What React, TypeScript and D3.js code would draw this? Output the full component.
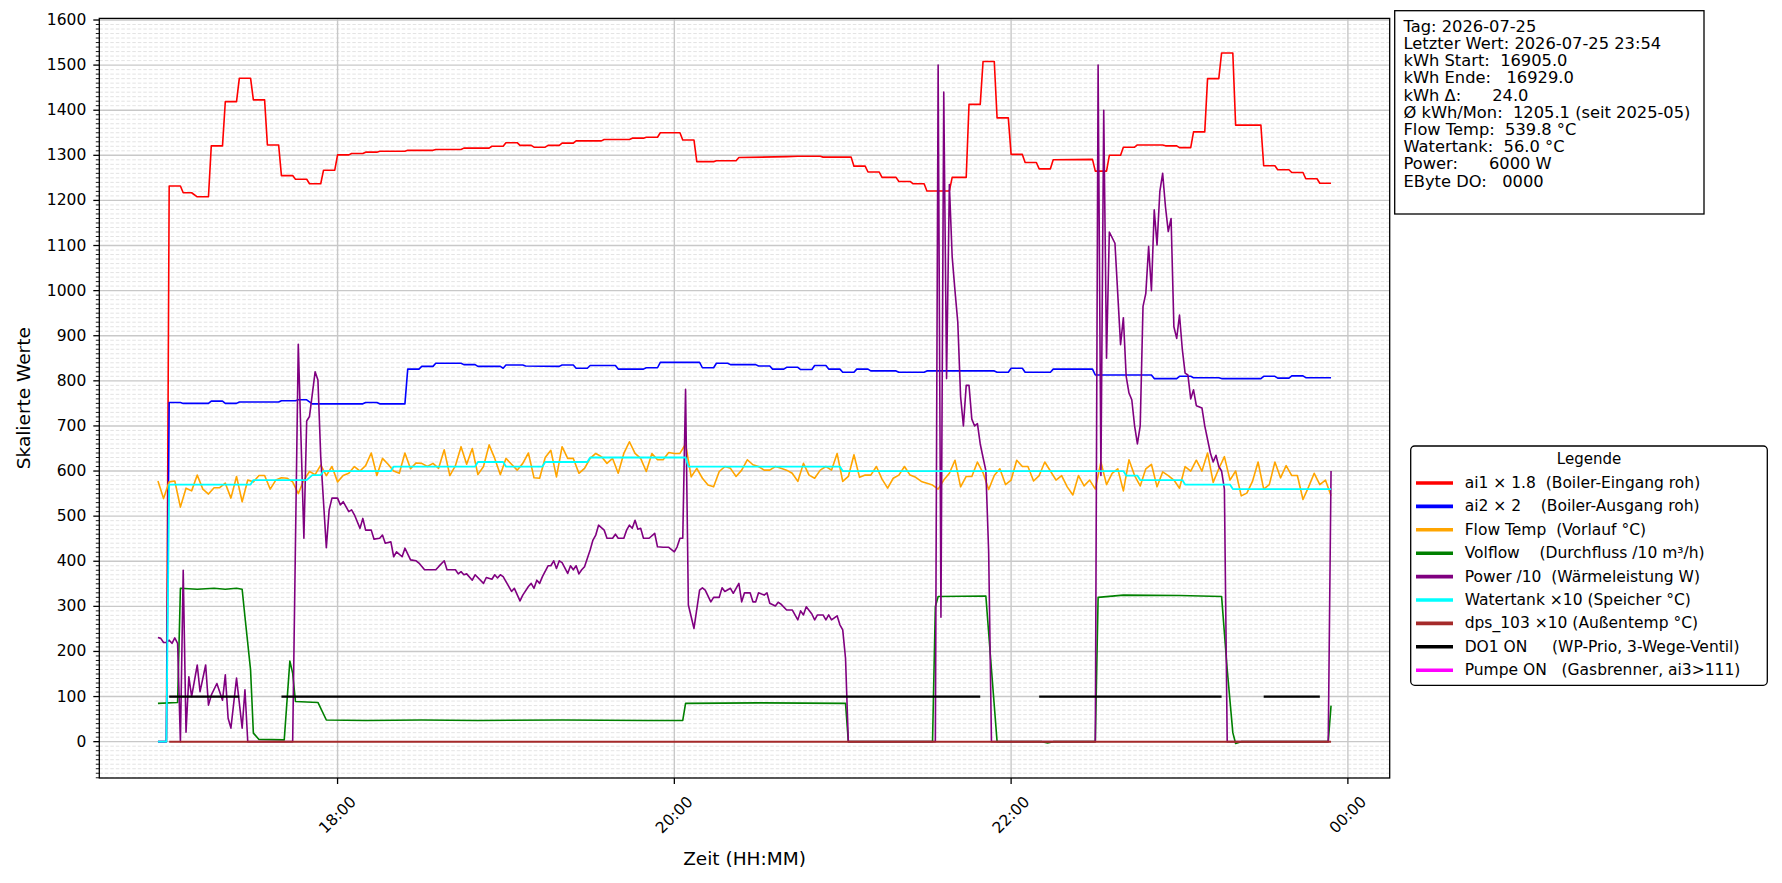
import React, { useEffect, useRef } from 'react';
import * as d3 from 'd3';

// Zeitpunkte in Minuten seit 00:00 am 2026-07-25, Werte skaliert wie im Plot
type Pt = [number, number];

const ai1Scaled: Pt[] = [
  [1016, 0], [1019, 0], [1020, 1232], [1024, 1232], [1025, 1217], [1028, 1217], [1030, 1208], [1034, 1208],
  [1035, 1321], [1039, 1321], [1040, 1419], [1044, 1419], [1045, 1471], [1049, 1471], [1050, 1423], [1054, 1423],
  [1055, 1323], [1059, 1323], [1060, 1255], [1064, 1255], [1065, 1247], [1069, 1247], [1070, 1237], [1074, 1237],
  [1075, 1267], [1079, 1267], [1080, 1301], [1084, 1301], [1085, 1304], [1089, 1304], [1090, 1307], [1094, 1307],
  [1095, 1309], [1104, 1309], [1105, 1311], [1114, 1311], [1115, 1313], [1124, 1313], [1125, 1316], [1134, 1316],
  [1135, 1320], [1139, 1320], [1140, 1328], [1144, 1328], [1145, 1322], [1149, 1322], [1150, 1318], [1154, 1318],
  [1155, 1322], [1159, 1322], [1160, 1327], [1164, 1327], [1165, 1332], [1174, 1332], [1175, 1335], [1184, 1335],
  [1185, 1338], [1189, 1338], [1190, 1340], [1194, 1340], [1195, 1350], [1202, 1350], [1203, 1334], [1207, 1334],
  [1208, 1286], [1214, 1286], [1215, 1288], [1222, 1288], [1223, 1295], [1240, 1297], [1244, 1298], [1252, 1298],
  [1253, 1296], [1263, 1296], [1264, 1276], [1268, 1276], [1269, 1263], [1273, 1263], [1274, 1251], [1279, 1251],
  [1280, 1242], [1284, 1242], [1285, 1237], [1289, 1237], [1290, 1221], [1298, 1221], [1299, 1251], [1304, 1251],
  [1305, 1413], [1309, 1413], [1310, 1508], [1314, 1508], [1315, 1383], [1319, 1383], [1320, 1302], [1324, 1302],
  [1325, 1284], [1329, 1284], [1330, 1270], [1334, 1270], [1335, 1290], [1349, 1291], [1350, 1265], [1354, 1265],
  [1355, 1300], [1359, 1300], [1360, 1318], [1364, 1318], [1365, 1323], [1374, 1323], [1375, 1321], [1379, 1321],
  [1380, 1317], [1384, 1317], [1385, 1352], [1389, 1352], [1390, 1470], [1394, 1470], [1395, 1527], [1399, 1527],
  [1400, 1367], [1409, 1367], [1410, 1277], [1414, 1277], [1415, 1268], [1419, 1268], [1420, 1262], [1424, 1262],
  [1425, 1248], [1429, 1248], [1430, 1238], [1434, 1238],
];

const ai2Scaled: Pt[] = [
  [1016, 0], [1019, 0], [1020, 752], [1024, 752], [1025, 750], [1034, 750], [1035, 755], [1039, 755],
  [1040, 750], [1044, 750], [1045, 753], [1059, 753], [1060, 756], [1065, 756], [1066, 758], [1069, 758],
  [1071, 749], [1089, 749], [1090, 752], [1094, 752], [1095, 749], [1104, 749], [1105, 826], [1109, 826],
  [1110, 832], [1114, 832], [1115, 839], [1124, 839], [1125, 836], [1129, 836], [1130, 832], [1138, 832],
  [1139, 828], [1140, 835], [1146, 835], [1147, 833], [1159, 832], [1160, 835], [1164, 835], [1165, 828],
  [1169, 828], [1170, 834], [1179, 834], [1180, 826], [1189, 826], [1190, 829], [1194, 829], [1195, 841],
  [1209, 841], [1210, 829], [1214, 829], [1215, 839], [1219, 839], [1220, 836], [1229, 836], [1230, 833],
  [1234, 833], [1235, 826], [1239, 826], [1240, 830], [1244, 830], [1245, 825], [1249, 825], [1250, 834],
  [1254, 834], [1255, 826], [1259, 826], [1260, 819], [1264, 819], [1265, 826], [1269, 826], [1270, 822],
  [1279, 822], [1280, 819], [1289, 819], [1290, 822], [1314, 822], [1315, 819], [1319, 819], [1320, 828],
  [1324, 828], [1325, 819], [1334, 819], [1335, 826], [1349, 826], [1350, 813], [1370, 813], [1371, 805],
  [1379, 805], [1380, 810], [1384, 810], [1385, 807], [1394, 807], [1395, 805], [1409, 805], [1410, 810],
  [1414, 810], [1415, 806], [1419, 806], [1420, 811], [1424, 811], [1425, 807], [1434, 807],
];

// Vorlauf alle 2 Minuten ab 16:56
const flowStart = 1016;
const flowStep = 2;
const flowTemp: number[] = [
  578, 539, 576, 578, 520, 562, 556, 591, 560, 549, 563, 563, 573, 540, 588, 532, 580, 576, 590, 590,
  560, 580, 585, 584, 576, 550, 580, 599, 592, 613, 590, 610, 576, 590, 595, 610, 600, 612, 640, 590,
  628, 615, 600, 595, 640, 605, 618, 617, 610, 617, 606, 647, 590, 612, 654, 615, 650, 592, 610, 658,
  628, 592, 628, 615, 602, 617, 640, 585,
  584, 630, 646, 587, 654, 628, 628, 595, 606, 628, 639, 632, 617, 628, 595, 639, 665, 639, 628, 599,
  639, 625, 625, 641, 639, 639, 660, 587, 606, 584, 569, 565, 599, 610, 606, 588, 602, 625, 614, 610,
  602, 602, 610, 606, 602, 595, 577, 617, 591, 584, 602, 610, 602, 639, 577, 588, 636, 586, 591, 591,
  610, 582, 562, 584, 591, 610, 591, 586, 577, 573, 569, 560, 580, 595, 624,
  565, 588, 588, 620, 596, 559, 590, 605, 570, 580, 624, 610, 610, 578, 590, 620, 600, 580, 590, 565,
  547, 590, 567, 580, 560, 620, 570, 595, 605, 556, 625, 590, 567, 605, 615, 565, 598, 590, 580, 562,
  610, 600, 624,
  600, 640, 575, 605, 632, 580, 600,
  545, 551, 577, 620, 560, 570, 620, 585, 612, 590, 590, 537, 565, 595, 570, 580, 545,
];

const volflow: Pt[] = [
  [1016, 85], [1023, 87], [1024, 340], [1030, 338], [1036, 340], [1040, 338], [1044, 340], [1046, 338],
  [1047, 277], [1049, 159], [1050, 19], [1052, 5], [1061, 4], [1063, 179], [1064, 152], [1065, 89],
  [1073, 87], [1076, 48], [1090, 47], [1110, 48], [1130, 47], [1160, 48], [1190, 47], [1203, 47],
  [1204, 85], [1230, 86], [1261, 85], [1262, 0], [1292, 0], [1293, 299], [1294, 322], [1311, 323],
  [1313, 160], [1315, 0], [1331, 0], [1333, -3], [1335, 0], [1350, 0], [1351, 320], [1360, 325],
  [1380, 324], [1395, 322], [1397, 160], [1399, 20], [1400, -4], [1402, 0], [1433, 0], [1434, 80],
];

const power: Pt[] = [
  [1016, 231], [1017, 229], [1018, 220], [1019, 220], [1020, 225], [1021, 218], [1022, 230], [1023, 218],
  [1024, 0], [1025, 380], [1026, 21], [1027, 144], [1028, 100], [1030, 170], [1031, 111], [1033, 170],
  [1034, 81], [1035, 103], [1037, 129], [1039, 92], [1040, 148], [1041, 52], [1042, 30], [1044, 141],
  [1046, 30], [1047, 115], [1048, 0], [1064, 0], [1066, 881], [1068, 451], [1069, 711], [1070, 721],
  [1072, 820], [1073, 802], [1074, 632], [1076, 430], [1077, 514], [1078, 540], [1080, 540], [1081, 525],
  [1082, 532], [1084, 510], [1085, 514], [1086, 503], [1088, 473], [1089, 495], [1090, 469], [1092, 469],
  [1093, 449], [1095, 451], [1096, 458], [1097, 440], [1099, 443], [1100, 410], [1101, 421], [1103, 410],
  [1104, 429], [1106, 403], [1108, 401], [1109, 396], [1111, 381], [1115, 381], [1116, 388], [1118, 401],
  [1119, 381], [1122, 381], [1123, 372], [1124, 377], [1125, 370], [1126, 372], [1128, 358], [1129, 370],
  [1132, 351], [1133, 364], [1135, 360], [1136, 370], [1137, 363], [1138, 370], [1139, 366], [1142, 333],
  [1143, 340], [1145, 312], [1146, 325], [1148, 344], [1149, 351], [1150, 340], [1151, 358], [1152, 351],
  [1153, 366], [1155, 390], [1156, 390], [1157, 401], [1158, 384], [1159, 401], [1160, 397], [1162, 373],
  [1163, 390], [1164, 381], [1165, 390], [1166, 372], [1167, 381], [1168, 388], [1170, 425], [1171, 447],
  [1172, 458], [1173, 480], [1175, 469], [1176, 451], [1178, 451], [1179, 460], [1180, 451], [1182, 451],
  [1183, 469], [1184, 480], [1185, 473], [1186, 491], [1187, 471], [1188, 473], [1189, 451], [1191, 451],
  [1193, 462], [1194, 432], [1196, 431], [1198, 431], [1200, 421], [1201, 432], [1202, 451], [1203, 451],
  [1204, 781], [1205, 303], [1207, 251], [1209, 336], [1210, 341], [1211, 336], [1213, 310], [1214, 320],
  [1216, 320], [1217, 341], [1218, 333], [1220, 340], [1221, 329], [1222, 340], [1223, 351], [1224, 310],
  [1225, 330], [1227, 330], [1228, 310], [1229, 310], [1230, 330], [1232, 325], [1233, 330], [1234, 307],
  [1236, 301], [1237, 309], [1238, 305], [1240, 292], [1242, 292], [1244, 270], [1245, 290], [1246, 281],
  [1247, 299], [1249, 283], [1250, 270], [1251, 281], [1253, 281], [1254, 270], [1255, 281], [1256, 270],
  [1258, 279], [1259, 259], [1260, 248], [1261, 185], [1262, 0], [1293, 0], [1294, 1500], [1295, 276],
  [1296, 1440], [1297, 805], [1298, 1235], [1299, 1075], [1300, 1000], [1301, 930], [1302, 765], [1303, 700],
  [1304, 790], [1305, 790], [1306, 715], [1307, 700], [1308, 705], [1309, 660], [1310, 630], [1311, 601],
  [1312, 421], [1313, 0], [1350, 0], [1351, 1500], [1352, 590], [1353, 1400], [1354, 850], [1355, 1130],
  [1357, 1105], [1359, 880], [1360, 940], [1361, 810], [1362, 773], [1363, 758], [1364, 700], [1365, 660],
  [1366, 700], [1367, 965], [1368, 994], [1369, 1098], [1370, 1000], [1371, 1179], [1372, 1101], [1373, 1220],
  [1374, 1260], [1375, 1186], [1376, 1131], [1377, 1160], [1378, 920], [1379, 894], [1380, 946], [1381, 870],
  [1382, 817], [1383, 813], [1384, 760], [1385, 780], [1386, 745], [1388, 740], [1389, 700], [1391, 640],
  [1392, 620], [1393, 635], [1394, 610], [1395, 600], [1396, 560], [1397, 0], [1433, 0], [1434, 600],
];

const watertank: Pt[] = [
  [1016, 0], [1019, 0], [1020, 570], [1049, 570], [1050, 580], [1069, 580], [1071, 591], [1074, 591],
  [1075, 600], [1099, 600], [1100, 610], [1129, 610], [1130, 620], [1139, 620], [1140, 610], [1153, 610],
  [1154, 620], [1169, 620], [1170, 630], [1204, 630], [1205, 610], [1259, 610], [1260, 600], [1360, 600],
  [1361, 590], [1365, 590], [1366, 580], [1381, 580], [1382, 570], [1398, 570], [1399, 560], [1434, 560],
];

const dps103: Pt[] = [[1020, 0], [1434, 0]];

// DO1 ON -> Linie bei 100 (Start, Ende)
const do1On: Pt[] = [[1020, 1045], [1060, 1309], [1330, 1395], [1410, 1430]];
const pumpeOn: Pt[] = [];

const legendLabels = [
  'ai1 × 1.8  (Boiler-Eingang roh)',
  'ai2 × 2    (Boiler-Ausgang roh)',
  'Flow Temp  (Vorlauf °C)',
  'Volflow    (Durchfluss /10 m³/h)',
  'Power /10  (Wärmeleistung W)',
  'Watertank ×10 (Speicher °C)',
  'dps_103 ×10 (Außentemp °C)',
  'DO1 ON     (WP-Prio, 3-Wege-Ventil)',
  'Pumpe ON   (Gasbrenner, ai3>111)',
];
const legendColors = ['red', 'blue', 'orange', 'green', 'purple', 'cyan', 'brown', 'black', 'magenta'];

const infoLines = [
  'Tag: 2026-07-25',
  'Letzter Wert: 2026-07-25 23:54',
  'kWh Start:  16905.0',
  'kWh Ende:   16929.0',
  'kWh Δ:      24.0',
  'Ø kWh/Mon:  1205.1 (seit 2025-05)',
  'Flow Temp:  539.8 °C',
  'Watertank:  56.0 °C',
  'Power:      6000 W',
  'EByte DO:   0000',
];

const W = 1782;
const H = 883;
const FONT = 'DejaVu Sans, sans-serif';
const BASE = new Date(2026, 6, 25).getTime();
const toDate = (m: number) => new Date(BASE + m * 60000);
// Leerzeichen erhalten
const keepSpaces = (s: string) => s.replace(/ /g, '\u00A0');

export default function App() {
  const svgRef = useRef<SVGSVGElement>(null);

  useEffect(() => {
    if (!svgRef.current) return;
    const svg = d3.select(svgRef.current);
    svg.selectAll('*').remove();

    const left = 99.3, right = 1389.7, top = 18.4, bottom = 778;

    const flowPts: Pt[] = flowTemp.map((v, i) => [flowStart + i * flowStep, v]);
    const all = [ai1Scaled, ai2Scaled, flowPts, volflow, power, watertank, dps103].flat();
    const [t0, t1] = d3.extent(all, d => d[0]) as [number, number];
    const [v0, v1] = d3.extent(all, d => d[1]) as [number, number];
    const tp = (t1 - t0) * 0.05;
    const vp = (v1 - v0) * 0.05;

    const x = d3.scaleTime().domain([toDate(t0 - tp), toDate(t1 + tp)]).range([left, right]);
    const y = d3.scaleLinear().domain([v0 - vp, v1 + vp]).range([bottom, top]);

    svg.append('rect').attr('width', W).attr('height', H).attr('fill', '#fff');

    svg.append('defs').append('clipPath').attr('id', 'plotclip')
      .append('rect').attr('x', left).attr('y', top).attr('width', right - left).attr('height', bottom - top);

    // Gitter
    const grid = svg.append('g');
    const minorY = d3.range(-80, 1601, 10).filter(v => v % 100 !== 0);
    const majorY = d3.range(0, 1601, 100);
    const xTicks = x.ticks(d3.timeHour.every(2)!);

    grid.selectAll('.mg').data(minorY).enter().append('line')
      .attr('x1', left).attr('x2', right)
      .attr('y1', d => y(d)).attr('y2', d => y(d))
      .attr('stroke', '#dcdcdc').attr('stroke-width', 0.8).attr('stroke-dasharray', '3.5,2');
    grid.selectAll('.Mg').data(majorY).enter().append('line')
      .attr('x1', left).attr('x2', right)
      .attr('y1', d => y(d)).attr('y2', d => y(d))
      .attr('stroke', '#c8c8c8').attr('stroke-width', 1.4);
    grid.selectAll('.xg').data(xTicks).enter().append('line')
      .attr('y1', top).attr('y2', bottom)
      .attr('x1', d => x(d)).attr('x2', d => x(d))
      .attr('stroke', '#c8c8c8').attr('stroke-width', 1.4);

    // Linien
    const line = d3.line<Pt>().x(d => x(toDate(d[0]))).y(d => y(d[1]));
    const plot = svg.append('g').attr('clip-path', 'url(#plotclip)');
    const series: [Pt[], string, number][] = [
      [ai1Scaled, 'red', 1.6],
      [ai2Scaled, 'blue', 1.6],
      [flowPts, 'orange', 1.6],
      [volflow, 'green', 1.6],
      [power, 'purple', 1.6],
      [watertank, 'cyan', 1.8],
      [dps103, 'brown', 2],
    ];
    series.forEach(([data, color, w]) => {
      plot.append('path').datum(data).attr('d', line)
        .attr('fill', 'none').attr('stroke', color).attr('stroke-width', w)
        .attr('stroke-linejoin', 'round');
    });
    [[do1On, 'black'], [pumpeOn, 'magenta']].forEach(([iv, color]) => {
      (iv as Pt[]).forEach(seg => {
        plot.append('path').datum([[seg[0], 100], [seg[1], 100]] as Pt[]).attr('d', line)
          .attr('fill', 'none').attr('stroke', color as string).attr('stroke-width', 2.3);
      });
    });

    // Achsen
    const ax = svg.append('g');
    ax.selectAll('.mt').data(minorY).enter().append('line')
      .attr('x1', left - 3.5).attr('x2', left)
      .attr('y1', d => y(d)).attr('y2', d => y(d))
      .attr('stroke', '#000').attr('stroke-width', 0.9);
    ax.selectAll('.Mt').data(majorY).enter().append('line')
      .attr('x1', left - 6).attr('x2', left)
      .attr('y1', d => y(d)).attr('y2', d => y(d))
      .attr('stroke', '#000').attr('stroke-width', 1.3);
    ax.selectAll('.yl').data(majorY).enter().append('text')
      .attr('x', left - 13).attr('y', d => y(d))
      .attr('text-anchor', 'end').attr('dominant-baseline', 'central')
      .style('font-family', FONT).style('font-size', '15.5px').text(d => String(d));

    const fmt = d3.timeFormat('%H:%M');
    ax.selectAll('.xt').data(xTicks).enter().append('line')
      .attr('x1', d => x(d)).attr('x2', d => x(d))
      .attr('y1', bottom).attr('y2', bottom + 6)
      .attr('stroke', '#000').attr('stroke-width', 1.3);
    ax.selectAll('.xl').data(xTicks).enter().append('text')
      .attr('transform', d => `translate(${x(d)},${bottom + 37}) rotate(-45)`)
      .attr('text-anchor', 'middle').attr('dominant-baseline', 'central')
      .style('font-family', FONT).style('font-size', '15.5px').text(d => fmt(d));

    ax.append('rect').attr('x', left).attr('y', top)
      .attr('width', right - left).attr('height', bottom - top)
      .attr('fill', 'none').attr('stroke', '#000').attr('stroke-width', 1.3);

    svg.append('text').attr('x', (left + right) / 2).attr('y', 858)
      .attr('text-anchor', 'middle').attr('dominant-baseline', 'central')
      .style('font-family', FONT).style('font-size', '18.5px').text('Zeit (HH:MM)');
    svg.append('text').attr('transform', `translate(23,${(top + bottom) / 2}) rotate(-90)`)
      .attr('text-anchor', 'middle').attr('dominant-baseline', 'central')
      .style('font-family', FONT).style('font-size', '18.5px').text('Skalierte Werte');

    // Info-Box
    svg.append('rect').attr('x', 1394.7).attr('y', 10.7).attr('width', 309.3).attr('height', 203.3)
      .attr('fill', '#fff').attr('stroke', '#000').attr('stroke-width', 1.3);
    svg.append('g').selectAll('text').data(infoLines).enter().append('text')
      .attr('x', 1403.5).attr('y', (d, i) => 31.7 + i * 17.22)
      .style('font-family', FONT).style('font-size', '16.3px').text(d => keepSpaces(d));

    // Legende
    const lg = svg.append('g');
    lg.append('rect').attr('x', 1410.7).attr('y', 446).attr('width', 356.6).attr('height', 239.3)
      .attr('rx', 4).attr('fill', '#fff').attr('stroke', '#000').attr('stroke-width', 1.3);
    lg.append('text').attr('x', 1589).attr('y', 459).attr('text-anchor', 'middle')
      .attr('dominant-baseline', 'central')
      .style('font-family', FONT).style('font-size', '15px').text('Legende');
    legendLabels.forEach((label, i) => {
      const cy = 483 + i * 23.4;
      lg.append('line').attr('x1', 1416).attr('x2', 1453).attr('y1', cy).attr('y2', cy)
        .attr('stroke', legendColors[i]).attr('stroke-width', 3.6);
      lg.append('text').attr('x', 1464.7).attr('y', cy).attr('dominant-baseline', 'central')
        .style('font-family', FONT).style('font-size', '15.5px').text(keepSpaces(label));
    });
  }, []);

  return (
    <svg
      ref={svgRef}
      width={W}
      height={H}
      style={{ position: 'absolute', left: 0, top: 0 }}
    />
  );
}
